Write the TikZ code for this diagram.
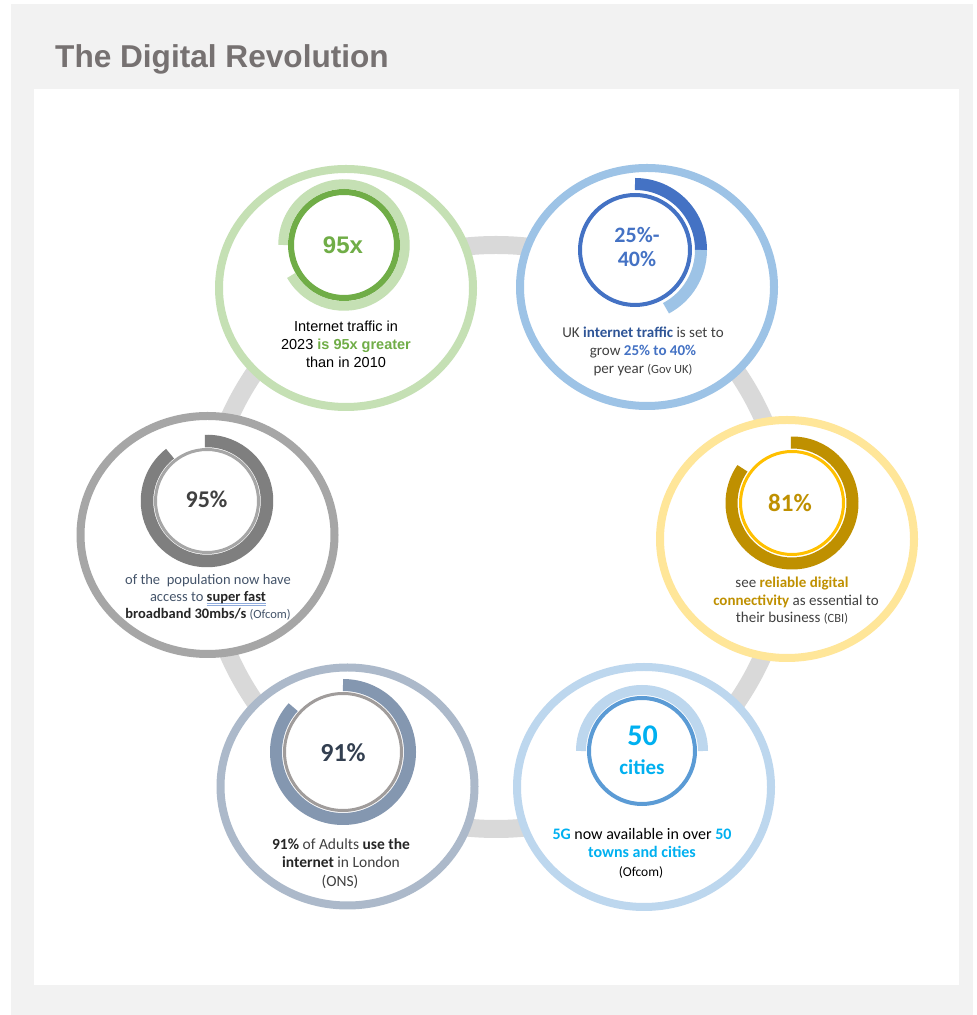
\documentclass[tikz,border=0pt]{standalone}
\usepackage{fontspec}
\setmainfont{Carlito}
\newfontfamily\arialf{Liberation Sans}
\definecolor{bggray}{HTML}{F2F2F2}
\definecolor{ringgray}{HTML}{D9D9D9}
\definecolor{titlegray}{HTML}{767171}
\definecolor{grlight}{HTML}{C5E0B4}
\definecolor{grdark}{HTML}{70AD47}
\definecolor{bllight}{HTML}{9DC3E6}
\definecolor{bldark}{HTML}{4472C4}
\definecolor{bltext}{HTML}{2F5597}
\definecolor{gylight}{HTML}{A6A6A6}
\definecolor{gydark}{HTML}{7F7F7F}
\definecolor{gytext}{HTML}{404040}
\definecolor{slatetxt}{HTML}{44546A}
\definecolor{ylight}{HTML}{FFE699}
\definecolor{ydark}{HTML}{BF9000}
\definecolor{yinner}{HTML}{FFC000}
\definecolor{sllight}{HTML}{ACB9CA}
\definecolor{sldark}{HTML}{8497B0}
\definecolor{slinner}{HTML}{A09C9B}
\definecolor{slnum}{HTML}{333F50}
\definecolor{lblight}{HTML}{BDD7EE}
\definecolor{lbinner}{HTML}{5B9BD5}
\definecolor{cyan5g}{HTML}{00B0F0}
\definecolor{ulblue}{HTML}{8EAADB}
\definecolor{dark}{HTML}{262626}
\newcommand\blueul[1]{\setbox0\hbox{#1}\rlap{\color{ulblue}\rule[-2.2pt]{\wd0}{0.8pt}}\rlap{\color{ulblue}\rule[-4.2pt]{\wd0}{0.8pt}}\box0}
\tikzset{
  bigcirc/.style={line width=8pt, fill=white, draw=#1},
  txt/.style={anchor=base, inner sep=0pt},
  num/.style={anchor=base, inner sep=0pt, font=\bfseries\fontsize{#1}{#1}\selectfont},
  body/.style={anchor=base, inner sep=0pt, font=\fontsize{#1}{#1}\selectfont},
}
\begin{document}
\begin{tikzpicture}[x=1pt,y=1pt]
\useasboundingbox (0,0) rectangle (977,1015);
\fill[bggray] (11,0) rectangle (973,1011);
\fill[white] (34,30) rectangle (959,926);
\node[anchor=base west, inner sep=0pt, font=\arialf\bfseries\fontsize{31.6}{36}\selectfont, text=titlegray] (title) at (55,947) {The Digital Revolution};

% ring
\coordinate (ringc) at (496,478);
\draw[ringgray, line width=18pt] (ringc) circle[radius=292pt];

% centres of the big circles
\coordinate (o1) at (346,727);
\coordinate (o2) at (647,728);
\coordinate (o3) at (207.5,480);
\coordinate (o4) at (787,476);
\coordinate (o5) at (347.5,228.5);
\coordinate (o6) at (644,228);

\draw[bigcirc=grlight] (o1) ellipse[x radius=127pt, y radius=119pt];
\draw[bigcirc=bllight] (o2) ellipse[x radius=127pt, y radius=119pt];
\draw[bigcirc=gylight] (o3) ellipse[x radius=127pt, y radius=119pt];
\draw[bigcirc=ylight] (o4) ellipse[x radius=127pt, y radius=119pt];
\draw[bigcirc=sllight] (o5) ellipse[x radius=127pt, y radius=119pt];
\draw[bigcirc=lblight] (o6) ellipse[x radius=127pt, y radius=120pt];

% 1 green donut
\coordinate (d1) at (344,770);
\draw[grlight, line width=9.5pt] (d1) ++(210:61pt) arc[start angle=210, end angle=540, radius=61pt];
\draw[grdark, line width=6pt] (d1) circle[radius=53pt];
\node[txt, font=\arialf\bfseries\fontsize{24}{24}\selectfont, text=grdark] (n1) at (343,761) {95x};
\node[txt, font=\arialf\fontsize{14.5}{14.5}\selectfont] (t1a) at (346,683.3) {Internet traffic in};
\node[txt, font=\arialf\fontsize{14.5}{14.5}\selectfont] (t1b) at (346,665) {2023 \textcolor{grdark}{\bfseries is 95x greater}};
\node[txt, font=\arialf\fontsize{14.5}{14.5}\selectfont] (t1c) at (346,647) {than in 2010};

% 2 blue donut
\coordinate (d2) at (635,765);
\draw[bldark, line width=4pt] (d2) circle[radius=55pt];
\draw[bldark, line width=12pt] (d2) ++(90:66pt) arc[start angle=90, end angle=0, radius=66pt];
\draw[bllight, line width=12pt] (d2) ++(0:66pt) arc[start angle=0, end angle=-62, radius=66pt];
\node[num=22, text=bldark] (n2a) at (637,772) {25\%-};
\node[num=22, text=bldark] (n2b) at (637,748) {40\%};
\node[body=15, text=gytext] (t2a) at (643,677) {UK \textcolor{bltext}{\bfseries internet traffic} is set to};
\node[body=15, text=gytext] (t2b) at (643,659) {grow \textcolor{bldark}{\bfseries 25\% to 40\%}};
\node[body=15, text=gytext] (t2c) at (643,641) {per year {\fontsize{12.5}{12.5}\selectfont (Gov UK)}};

% 3 gray donut
\coordinate (d3) at (207,514);
\draw[gylight, line width=3pt] (d3) circle[radius=51.5pt];
\draw[gydark, line width=12.5pt] (d3) ++(92:60pt) arc[start angle=92, end angle=-232, radius=60pt];
\node[num=24, text=gytext] (n3) at (206.5,507) {95\%};
\node[body=14.5, text=slatetxt] (t3a) at (208,430) {of the\ \ population now have};
\node[body=14.5, text=slatetxt] (t3b) at (208,413) {access to \textcolor{dark}{\bfseries\blueul{super fast}}};
\node[body=14.5, text=slatetxt] (t3c) at (208,396) {\textcolor{dark}{\bfseries broadband 30mbs/s} {\fontsize{12.5}{12.5}\selectfont (Ofcom)}};

% 4 yellow donut
\coordinate (d4) at (792,512);
\draw[yinner, line width=3pt] (d4) circle[radius=51.5pt];
\draw[ydark, line width=12pt] (d4) ++(91:60.5pt) arc[start angle=91, end angle=-215, radius=60.5pt];
\node[num=25, text=ydark] (n4) at (790,503) {81\%};
\node[body=15, text=gytext] (t4a) at (792,427) {see \textcolor{ydark}{\bfseries reliable digital}};
\node[body=15, text=gytext] (t4b) at (796,409) {\textcolor{ydark}{\bfseries connectivity} as essential to};
\node[body=15, text=gytext] (t4c) at (792,392) {their business {\fontsize{12.5}{12.5}\selectfont (CBI)}};

% 5 slate donut
\coordinate (d5) at (343,263);
\draw[slinner, line width=3pt] (d5) circle[radius=58.5pt];
\draw[sldark, line width=12pt] (d5) ++(90:67pt) arc[start angle=90, end angle=-222, radius=67pt];
\node[num=26, text=slnum] (n5) at (343,253) {91\%};
\node[body=15.5, text=gytext] (t5a) at (341,165) {\textcolor{dark}{\bfseries 91\%} of Adults \textcolor{dark}{\bfseries use the}};
\node[body=15.5, text=gytext] (t5b) at (341,147) {\textcolor{dark}{\bfseries internet} in London};
\node[body=15.5, text=gytext] (t5c) at (340,128) {(ONS)};

% 6 light blue donut
\coordinate (d6) at (642,264);
\draw[lblight, line width=10pt] (d6) ++(180:61pt) arc[start angle=180, end angle=0, radius=61pt];
\draw[lbinner, line width=4pt] (d6) circle[radius=53pt];
\node[num=30, text=cyan5g] (n6a) at (642.5,269) {50};
\node[num=21, text=cyan5g] (n6b) at (642,240) {cities};
\node[body=16, text=black] (t6a) at (642,175) {\textcolor{cyan5g}{\bfseries 5G} now available in over \textcolor{cyan5g}{\bfseries 50}};
\node[body=16, text=cyan5g] (t6b) at (642,157) {\bfseries towns and cities};
\node[body=16, text=black] (t6c) at (641,138) {{\fontsize{13.5}{13.5}\selectfont (Ofcom)}};
\end{tikzpicture}
\end{document}
